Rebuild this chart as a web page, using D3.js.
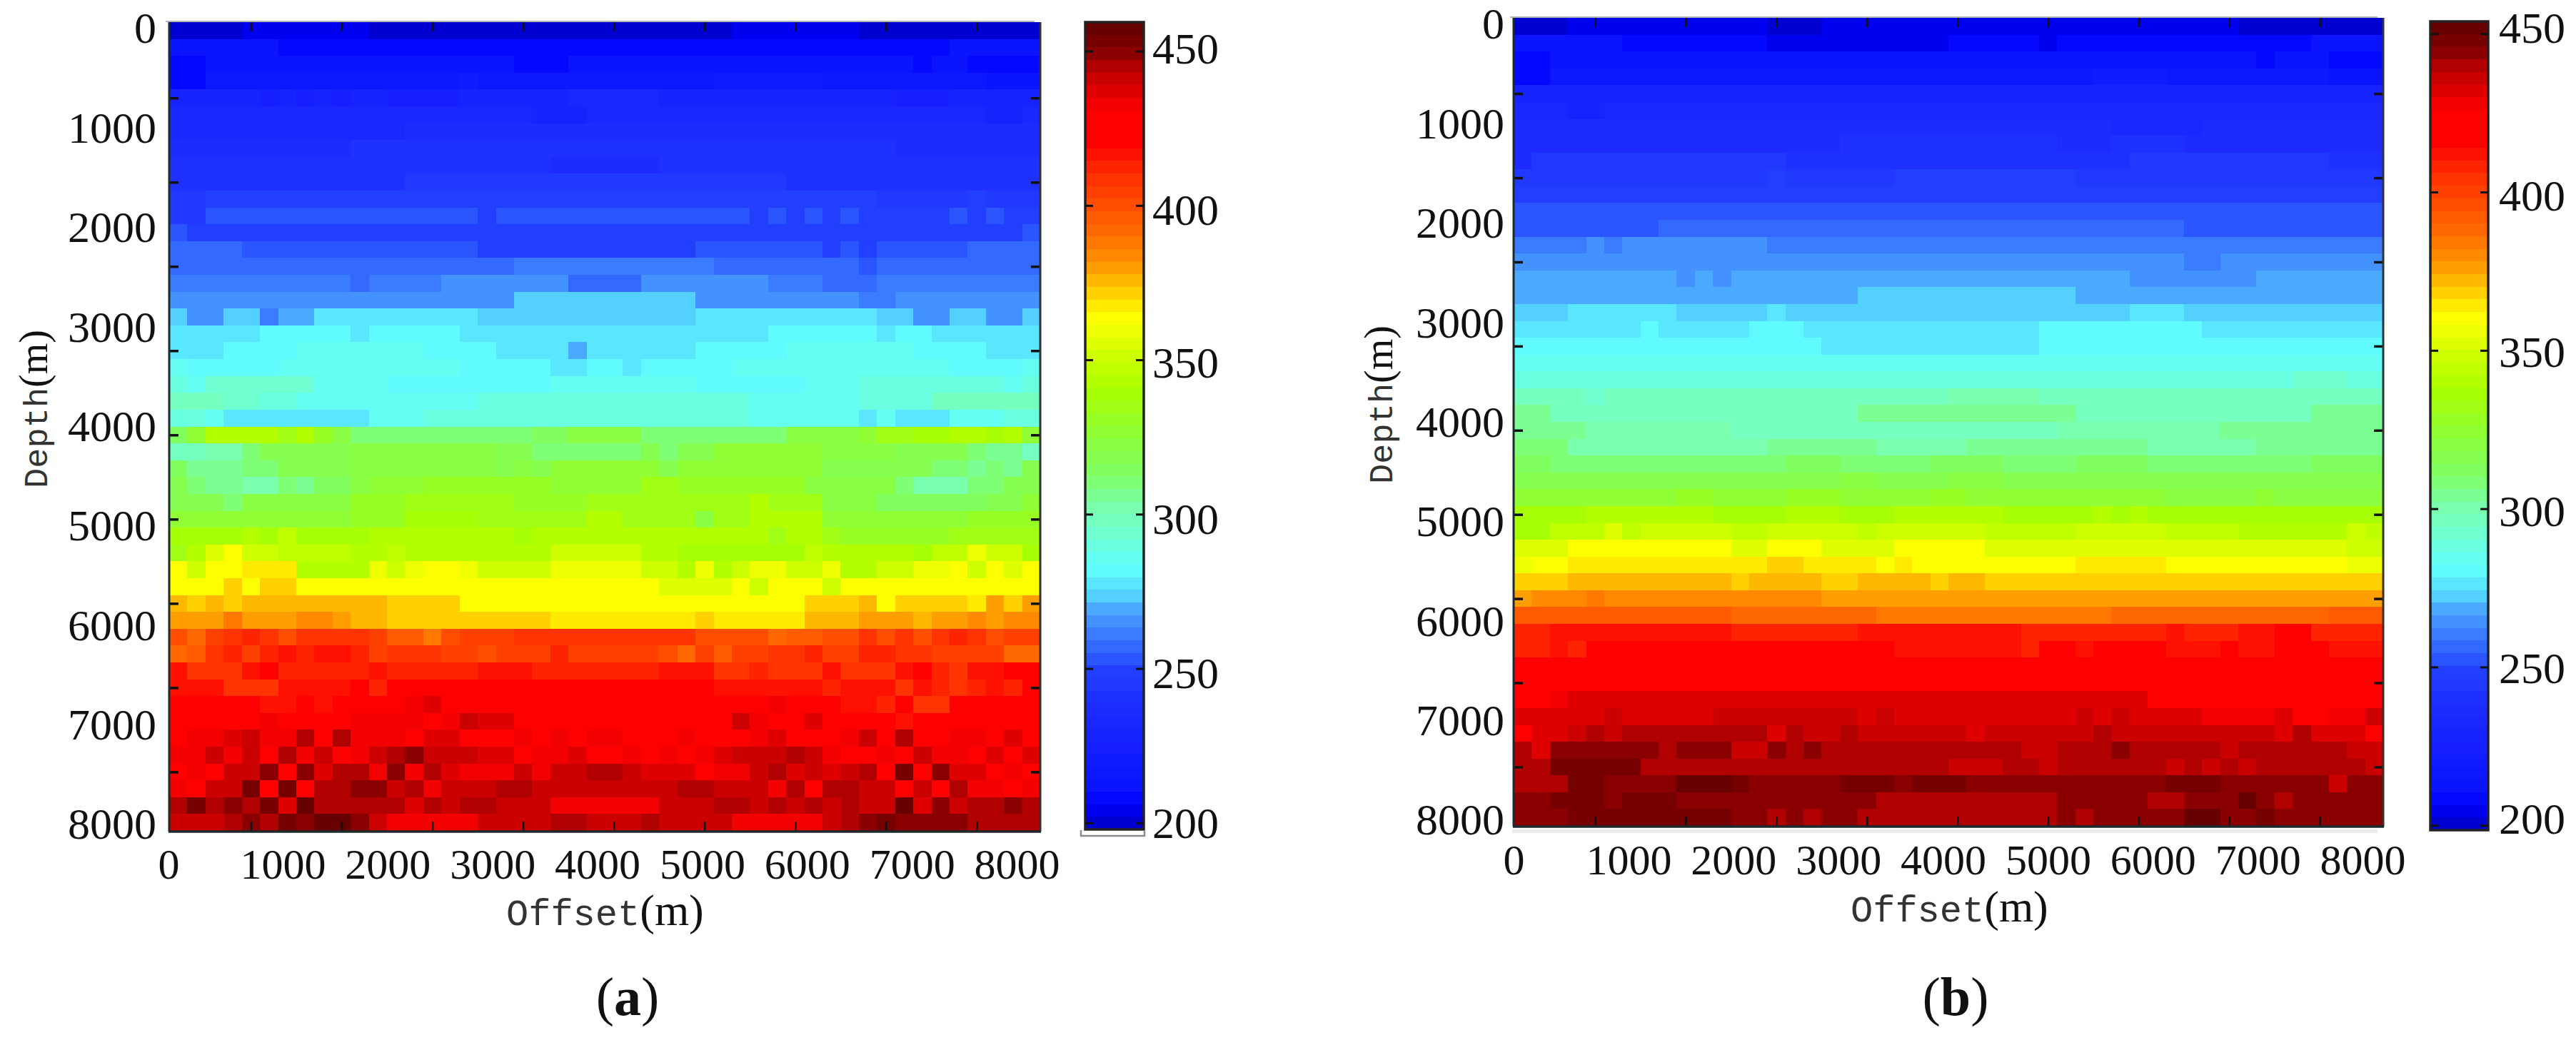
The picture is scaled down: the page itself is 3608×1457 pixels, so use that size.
<!DOCTYPE html>
<html>
<head>
<meta charset="utf-8">
<script src="https://cdn.jsdelivr.net/npm/d3@7/dist/d3.min.js"></script>
<style>
html,body{margin:0;padding:0;background:#fff;}
svg{display:block;}
text{font-family:"Liberation Serif",serif;fill:#111;}
</style>
</head>
<body>
<svg id="chart" width="3608" height="1457"></svg>
<script>
// Grid cell index ticks of the underlying image, and printed tick labels
const cellTicks = [5,10,15,20,25,30,35,40,45];
const axisLabels = [0,1000,2000,3000,4000,5000,6000,7000,8000];
const barTicks = [200,250,300,350,400,450];

// Colour map: position along the colour bar and the colour there
const colorPos = [0,.03,.053,.097,.155,.2,.214,.244,.274,.29,.323,.395,.44,.485,.544,.591,.635,.67,.70,.735,.81,.85,.889,.94,.964,1];
const colorVal = ["#0000bf","#0000ff","#0a14ff","#141eff","#1e2dff","#2341ff","#2d5aff","#3c7dff","#4baaff","#55d2ff","#60ffff","#78ffb4","#80ff64","#8cff3c","#aaff00","#d2ff00","#ffff00","#ffc800","#ff9600","#ff6e00","#ff3000","#ff0000","#ff0000","#be0000","#820000","#600000"];

// Panel (a): each row lists value,count pairs from left to right, top row first
const rowsA = [
[200,4,204,7,200,20,204,7,200,10],
[212,6,208,37,212,5],
[208,2,212,17,208,3,212,19,208,1,212,2,208,4],
[208,2,216,14,220,1,216,13,220,6,216,9,212,3],
[228,5,224,1,228,1,224,1,228,1,224,1,228,2,224,4,228,6,232,5,228,13,224,3,228,5],
[233,20,229,3,233,22,229,2,233,1],
[233,13,237,35],
[237,10,241,30,237,8],
[241,21,237,6,241,21],
[241,13,245,21,241,14],
[245,2,249,37,245,5,249,1,245,3],
[245,2,253,15,249,1,253,14,249,1,253,1,249,1,253,1,249,1,253,1,249,5,253,1,249,1,253,1,249,2],
[253,1,249,46,253,1],
[257,4,253,13,249,12,253,7,249,1,253,1,249,1,253,5,257,4],
[257,19,262,11,257,8,253,1,257,9],
[262,10,257,1,262,4,266,7,259,4,266,7,262,3,257,3,262,9],
[266,19,272,10,266,9,262,2,266,8],
[272,1,266,2,272,2,262,1,270,2,276,9,272,12,276,10,272,2,266,2,272,2,266,2,272,1],
[276,5,281,5,276,1,281,5,276,17,281,6,276,1,281,2,276,6],
[276,3,281,4,285,7,281,4,276,4,270,1,276,6,281,5,285,7,281,4,276,3],
[285,1,281,5,285,10,281,5,276,2,281,2,276,1,281,5,285,12,281,4,285,1],
[290,1,285,1,292,6,285,4,281,9,285,8,281,6,285,3,290,8,285,1,290,1],
[298,3,294,2,290,2,285,10,290,15,285,6,290,4,298,6],
[290,2,285,1,279,8,285,3,290,18,285,6,279,1,285,1,279,3,285,3,290,2],
[313,1,325,1,345,4,335,1,345,1,330,1,322,1,312,10,315,2,322,4,312,2,310,6,322,4,328,1,335,2,340,2,345,2,340,1,345,1,325,1],
[300,2,302,2,310,1,318,5,322,8,318,2,310,6,318,1,312,1,318,2,325,6,322,4,318,4,310,1,305,2,300,1],
[315,1,305,3,310,2,318,4,322,8,318,1,322,1,318,1,325,6,318,1,325,8,320,6,310,2,305,1,310,1,305,1,318,1],
[318,1,312,1,308,2,304,2,310,1,305,1,315,2,322,1,325,3,332,7,328,5,335,2,330,7,322,5,312,1,304,3,312,2,318,2],
[318,3,312,1,322,6,330,3,335,6,330,4,335,9,345,1,335,3,322,3,315,6,320,2,325,1],
[325,10,332,3,340,4,335,6,342,2,335,4,322,1,335,2,345,4,328,8,332,4],
[340,4,345,1,340,1,348,1,338,4,345,2,342,6,338,1,345,6,342,7,335,1,342,2,335,1,332,6,335,5],
[335,1,345,1,355,1,362,1,352,2,348,4,342,2,348,1,342,8,350,5,345,2,340,7,348,1,342,2,345,3,340,1,348,2,358,1,350,2,340,1],
[364,1,352,1,362,2,366,3,345,4,358,1,352,1,358,1,365,2,358,1,350,4,358,5,352,2,342,1,358,1,345,1,352,1,358,2,350,2,358,1,345,2,352,2,358,2,364,1,352,1,362,1,355,1,364,1],
[362,3,370,1,362,1,372,2,362,20,355,4,362,1,352,1,362,3,352,1,362,11],
[375,1,370,1,376,1,372,1,376,6,374,2,370,4,362,19,370,3,376,1,365,1,372,4,366,1,378,1,372,1,378,1],
[381,3,386,1,381,2,378,1,384,2,378,1,376,2,373,9,368,8,373,1,369,5,374,3,378,1,381,2,376,1,381,2,385,1,378,1,384,2],
[400,1,392,1,405,1,410,1,412,1,408,1,402,1,410,4,404,1,398,2,390,1,400,1,404,3,408,10,402,4,394,1,398,2,402,2,408,1,402,1,408,1,402,1,408,1,412,1,408,1,400,1,404,2],
[392,1,396,1,408,1,412,1,406,1,412,1,416,1,412,1,416,2,412,1,406,1,410,3,406,2,400,1,406,3,412,1,406,5,402,1,394,1,404,1,396,1,406,2,408,2,414,1,404,2,414,2,408,2,404,4,394,2],
[415,1,410,3,416,1,420,1,414,5,418,1,412,5,416,3,414,5,412,2,415,3,410,1,407,1,414,1,408,3,416,1,408,3,416,1,420,1,414,1,408,1,416,2,420,2],
[415,1,418,2,410,3,416,2,418,2,420,1,414,1,420,18,416,6,412,1,416,3,410,1,416,1,412,1,408,1,412,1,418,1,414,1,420,1],
[422,5,418,1,416,1,422,1,418,1,425,4,434,1,438,1,425,18,433,1,425,3,415,2,412,1,425,1,410,2,425,5],
[425,5,433,1,425,1,420,1,425,2,433,4,425,1,434,1,440,1,436,2,425,12,440,1,434,1,425,2,438,1,425,3,422,1,418,1,428,2,425,5],
[425,1,432,2,438,1,442,1,434,2,445,1,430,1,444,1,434,3,425,1,438,2,426,3,432,1,426,1,432,1,427,1,434,2,427,3,434,1,427,3,432,1,438,1,427,3,434,1,440,1,427,1,444,1,427,2,432,2,427,1,436,1,427,1],
[434,1,432,1,440,1,434,1,440,1,430,1,444,1,432,1,440,1,430,1,434,1,440,1,445,1,448,1,440,3,436,2,425,1,432,2,436,1,430,1,425,1,432,1,426,1,432,1,426,1,432,1,436,1,441,3,446,1,440,1,434,1,430,1,425,1,434,1,425,1,440,1,432,2,426,1,436,1,430,1,436,1],
[425,1,432,1,427,1,440,2,450,1,428,1,450,1,436,1,444,2,432,1,448,1,432,1,446,1,438,1,434,3,440,1,434,1,442,2,446,2,440,1,436,3,430,1,434,2,440,1,446,1,436,1,440,1,436,1,440,1,446,1,428,1,452,1,425,1,448,1,436,2,430,1,434,1,430,1],
[432,1,426,1,440,2,452,1,428,1,452,1,425,1,444,2,450,2,440,1,446,1,434,1,440,3,446,2,440,8,446,2,440,3,432,1,446,1,430,1,446,2,440,2,425,1,440,1,428,1,446,1,434,2,428,1,434,1],
[446,1,455,1,444,1,450,1,444,1,455,1,438,1,459,1,446,5,438,1,446,1,440,1,446,2,440,3,434,6,440,3,446,2,440,1,446,1,440,1,446,1,440,1,446,1,440,2,457,1,438,1,450,1,440,1,444,2,450,1,446,1],
[440,3,446,1,450,1,444,1,454,1,450,1,459,2,448,1,442,1,434,5,440,4,447,2,441,3,447,1,440,4,434,5,440,1,446,1,450,1,455,1,450,4,444,4]
];

// Panel (b): same layout
const rowsB = [
[200,3,204,11,200,3,204,23,200,8],
[212,6,207,8,204,10,207,5,204,1,207,14,212,4],
[207,2,213,39,207,1,213,3,207,3],
[207,2,216,30,220,4,216,9,212,3],
[227,48],
[232,3,229,2,232,43],
[236,33,233,5,236,10],
[237,18,241,12,237,3,241,4,237,11],
[237,1,244,14,241,19,244,11,241,3],
[244,14,248,1,244,6,248,10,244,17],
[250,48],
[252,48],
[253,8,258,29,253,11],
[260,4,264,1,260,1,264,8,259,34],
[263,37,259,2,263,9],
[267,9,263,1,267,1,263,1,267,22,263,7,267,7],
[267,19,272,12,267,17],
[272,3,276,6,272,5,276,1,272,19,276,3,272,11],
[276,7,280,1,276,5,280,3,276,13,280,9,276,10],
[281,17,276,12,281,19],
[285,48],
[290,1,288,42,291,3,288,2],
[295,4,291,1,295,19,300,5,295,19],
[303,2,298,17,303,12,298,13,303,4],
[304,4,300,8,296,18,300,9,304,9],
[308,3,302,11,306,6,302,5,306,10,302,6,306,7],
[312,2,308,13,312,3,308,5,312,4,308,4,312,4,308,9,312,4],
[316,18,320,2,316,4,320,3,316,21],
[325,9,330,2,325,4,330,3,325,5,330,2,325,11,320,5,323,1,320,6],
[338,4,342,7,336,4,342,3,336,3,342,6,336,5,342,1,336,1,342,1,336,13],
[338,2,345,3,352,1,345,1,350,5,345,2,350,5,345,1,350,6,345,5,350,5,345,4,340,6,350,1,345,1],
[353,3,360,9,354,2,360,3,354,4,360,5,354,20,350,2],
[358,1,362,2,366,11,370,2,366,4,361,1,366,1,361,9,366,5,361,10,358,2],
[370,3,374,9,370,1,374,4,370,2,374,4,370,1,374,2,370,22],
[375,1,381,3,386,1,381,12,378,31],
[392,12,388,8,384,13,388,12,392,3],
[408,2,412,1,414,9,410,7,414,3,411,6,408,8,414,1,408,3,414,1,411,1,415,2,408,4],
[408,2,412,1,410,1,415,7,417,5,420,1,417,4,413,7,410,1,416,2,412,1,416,1,418,3,413,3,417,1,413,2,417,3,411,3],
[418,3,421,10,422,3,424,2,422,8,424,9,422,6,416,4,420,3],
[426,48],
[426,2,430,1,434,2,431,9,434,2,431,1,434,1,431,1,434,1,431,15,426,13],
[433,5,437,1,433,5,437,8,431,1,437,1,433,10,438,1,433,1,438,1,433,4,428,4,434,1,424,2,430,2,436,1],
[425,1,433,2,437,1,441,1,437,1,440,8,433,1,440,1,437,2,441,1,437,6,433,1,437,6,442,1,437,9,433,1,440,1,434,3,426,1],
[439,1,433,1,443,6,439,1,443,3,437,2,443,1,439,1,444,1,440,11,436,2,441,3,446,1,440,5,435,1,441,6,436,2],
[440,2,448,5,442,17,436,3,442,2,436,1,442,6,435,1,442,1,435,1,442,1,435,1,442,6,438,1],
[442,3,447,1,450,1,446,4,451,3,448,1,443,5,448,3,443,1,448,3,443,11,448,3,443,6,437,1,444,2],
[445,2,449,3,445,1,449,3,446,11,442,10,446,5,442,2,446,3,451,1,444,1,440,1,445,5],
[446,3,450,9,446,2,440,1,446,1,440,1,446,2,442,11,446,1,440,1,446,5,451,2,446,2,450,1,446,6]
];

const LEVELS = 64;
const colorAt = d3.scaleLinear().domain(colorPos).range(colorVal).interpolate(d3.interpolateRgb);

function expandRow(r){
  const out=[];
  for(let i=0;i<r.length;i+=2) for(let n=0;n<r[i+1];n++) out.push(r[i]);
  return out;
}

const panels = [
 {key:"a", rows:rowsA, plot:{x0:237,x1:1457,y0:31,y1:1164}, range:[198,459.5],
  bar:{x0:1520,x1:1602,y0:31,y1:1162}, barLabelX:1614, barOffsets:{200:0,250:6,300:6,350:3,400:6,450:-4},
  xLab:{d:[0,1000,8000],r:[236,396,1424],y:1211}, yLab:{y0:39,y1:1154,x:219},
  xTitle:{x:709,y:1296}, yTitle:{x:66,cy:573}, caption:{text:"a",x:879,y:1422}},
 {key:"b", rows:rowsB, plot:{x0:2120,x1:3338,y0:25,y1:1157}, range:[198.6,454],
  bar:{x0:3404,x1:3485,y0:30,y1:1163}, barLabelX:3500, barOffsets:{200:-10,250:1,300:3,350:2,400:4,450:-9},
  xLab:{d:[0,1000,8000],r:[2120,2281,3309],y:1205}, yLab:{y0:33,y1:1148,x:2107},
  xTitle:{x:2592,y:1291}, yTitle:{x:1950,cy:567}, caption:{text:"b",x:2739,y:1422}}
];

const svg = d3.select("#chart");

panels.forEach(p=>{
  const g = svg.append("g").attr("class","panel-"+p.key);
  const col = d3.scaleLinear().domain([0.5,48.5]).range([p.plot.x0,p.plot.x1]);
  const row = d3.scaleLinear().domain([0.5,48.5]).range([p.plot.y0,p.plot.y1]);
  const toT = d3.scaleLinear().domain(p.range).range([0,1]).clamp(true);
  const levelColor = v => colorAt((Math.min(LEVELS-1,Math.floor(toT(v)*LEVELS))+.5)/LEVELS);

  // cells
  const cells=[];
  p.rows.forEach((r,i)=>expandRow(r).forEach((v,j)=>cells.push({i:i+1,j:j+1,v})));
  g.append("g").attr("shape-rendering","crispEdges").selectAll("rect").data(cells).join("rect")
    .attr("x",d=>Math.round(col(d.j-.5)))
    .attr("y",d=>Math.round(row(d.i-.5)))
    .attr("width",d=>Math.round(col(d.j+.5))-Math.round(col(d.j-.5)))
    .attr("height",d=>Math.round(row(d.i+.5))-Math.round(row(d.i-.5)))
    .attr("fill",d=>levelColor(d.v));

  // inner tick marks
  const tick=(gen,tx,ty,w)=>{
    const a=g.append("g").attr("transform",`translate(${tx},${ty})`)
      .call(gen.tickValues(cellTicks).tickSize(-13).tickFormat(""));
    a.select(".domain").remove();
    a.selectAll("line").attr("stroke","#111").attr("stroke-width",w);
  };
  tick(d3.axisTop(col),0,p.plot.y0,2.5);
  tick(d3.axisBottom(col),0,p.plot.y1,2.5);
  tick(d3.axisLeft(row),p.plot.x0,0,3.5);
  tick(d3.axisRight(row),p.plot.x1,0,3.5);

  // frame
  g.append("line").attr("x1",p.plot.x0-5).attr("x2",p.plot.x1-8).attr("y1",p.plot.y0-1).attr("y2",p.plot.y0-1)
    .attr("stroke","#b4b4b4").attr("stroke-width",2);
  g.append("line").attr("x1",p.plot.x0).attr("x2",p.plot.x0).attr("y1",p.plot.y0).attr("y2",p.plot.y1+1)
    .attr("stroke","#1d2a2c").attr("stroke-width",3);
  g.append("line").attr("x1",p.plot.x1).attr("x2",p.plot.x1).attr("y1",p.plot.y0).attr("y2",p.plot.y1+1)
    .attr("stroke","#333").attr("stroke-width",3);
  g.append("line").attr("x1",p.plot.x0-1).attr("x2",p.plot.x1+1).attr("y1",p.plot.y1+1).attr("y2",p.plot.y1+1)
    .attr("stroke","#1d2a2c").attr("stroke-width",3.5);

  // printed tick labels
  const xl = d3.scaleLinear().domain(p.xLab.d).range(p.xLab.r);
  const xa = g.append("g").attr("transform",`translate(0,${p.xLab.y})`)
    .call(d3.axisBottom(xl).tickValues(axisLabels).tickSize(0).tickPadding(0).tickFormat(d3.format("d")));
  xa.select(".domain").remove();
  xa.selectAll("text").attr("dy",".338em").attr("y",0).style("font-size","60px").style("font-family",'"Liberation Serif"').attr("fill","#111");

  const yl = d3.scaleLinear().domain([0,8000]).range([p.yLab.y0,p.yLab.y1]);
  const ya = g.append("g").attr("transform",`translate(${p.yLab.x},0)`)
    .call(d3.axisLeft(yl).tickValues(axisLabels).tickSize(0).tickPadding(0).tickFormat(d3.format("d")));
  ya.select(".domain").remove();
  ya.selectAll("text").attr("dy",".338em").attr("x",0).style("font-size","62px").style("font-family",'"Liberation Serif"').attr("fill","#111");

  // axis titles
  const xt = g.append("text").attr("x",p.xTitle.x).attr("y",p.xTitle.y);
  xt.append("tspan").text("Offset").style("font-family",'"Liberation Mono"').style("font-size","52px").attr("fill","#333");
  xt.append("tspan").text("(m)").style("font-size","62px");
  const yt = g.append("text").attr("text-anchor","middle")
    .attr("transform",`translate(${p.yTitle.x},${p.yTitle.cy}) rotate(-90)`);
  yt.append("tspan").text("Depth").style("font-family",'"Liberation Mono"').style("font-size","47px").attr("fill","#333");
  yt.append("tspan").text("(m)").style("font-size","56px");

  // caption
  const c = g.append("text").attr("x",p.caption.x).attr("y",p.caption.y).attr("text-anchor","middle").style("font-size","76px");
  c.append("tspan").text("(");
  c.append("tspan").text(p.caption.text).style("font-weight","bold");
  c.append("tspan").text(")");

  // colour bar
  const bar = d3.scaleLinear().domain(p.range).range([p.bar.y1,p.bar.y0]);
  const step=(p.range[1]-p.range[0])/LEVELS;
  g.append("g").attr("shape-rendering","crispEdges").selectAll("rect").data(d3.range(LEVELS)).join("rect")
    .attr("x",p.bar.x0).attr("width",p.bar.x1-p.bar.x0)
    .attr("y",l=>Math.round(bar(p.range[0]+(l+1)*step)))
    .attr("height",l=>Math.round(bar(p.range[0]+l*step))-Math.round(bar(p.range[0]+(l+1)*step)))
    .attr("fill",l=>colorAt((l+.5)/LEVELS));
  g.append("rect").attr("x",p.bar.x0).attr("y",p.bar.y0).attr("width",p.bar.x1-p.bar.x0).attr("height",p.bar.y1-p.bar.y0)
    .attr("fill","none").attr("stroke","#222").attr("stroke-width",3.5);
  const bt=g.append("g").selectAll("g").data(barTicks).join("g");
  bt.append("line").attr("x1",p.bar.x0).attr("x2",p.bar.x0+11).attr("y1",d=>bar(d)).attr("y2",d=>bar(d)).attr("stroke","#111").attr("stroke-width",3);
  bt.append("line").attr("x1",p.bar.x1).attr("x2",p.bar.x1-11).attr("y1",d=>bar(d)).attr("y2",d=>bar(d)).attr("stroke","#111").attr("stroke-width",3);
  bt.append("text").attr("x",p.barLabelX).attr("y",d=>bar(d)+p.barOffsets[d]).attr("dy",".338em").style("font-size","62px").text(d=>d);
});

// scanning remnants around the printed figure
svg.append("path").attr("d","M1514 1163V1171H1603V1163").attr("fill","none").attr("stroke","#8a8a8a").attr("stroke-width",2.5);
svg.append("rect").attr("x",2118).attr("y",1162).attr("width",1212).attr("height",5).attr("fill","#e9eaea");
</script>
</body>
</html>
